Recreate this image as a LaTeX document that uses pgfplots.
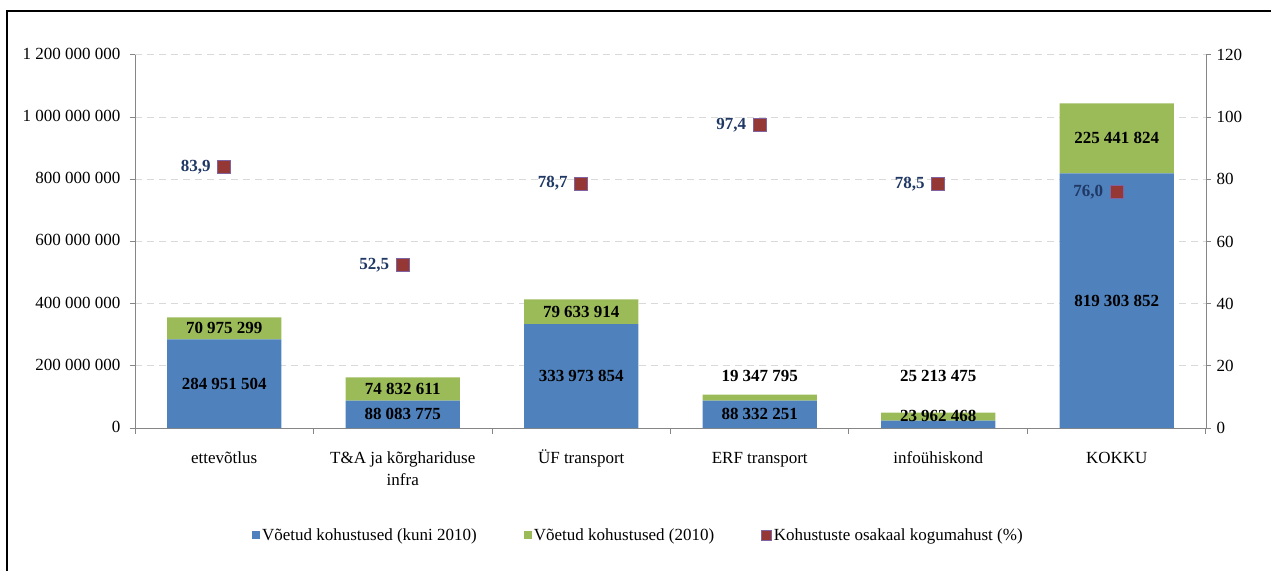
\documentclass[border=0pt]{standalone}
\usepackage{fontspec}
\setmainfont{Liberation Serif}
\usepackage{pgfplots}
\pgfplotsset{compat=1.18}

\definecolor{barblue}{HTML}{4F81BD}
\definecolor{bargreen}{HTML}{9BBB59}
\definecolor{mred}{HTML}{953735}
\definecolor{medge}{HTML}{8064A2}
\definecolor{pctnavy}{HTML}{1F3864}
\definecolor{axgray}{HTML}{868686}
\definecolor{gridgray}{HTML}{D9D9D9}

\newcommand\f{\fontsize{17}{22}\selectfont}

\pgfplotsset{
  frame/.style={
    at={(135pt,143pt)}, anchor=south west, scale only axis,
    width=1071pt, height=373pt,
    xmin=-0.5, xmax=5.5,
    axis line style={axgray, line width=1pt},
    tick style={axgray, line width=1pt},
    tick align=outside, major tick length=5pt,
    ticklabel style={font=\f, text=black},
    /pgf/number format/assume math mode=true,
  },
}

\begin{document}
\begin{tikzpicture}
\path[use as bounding box] (0pt,0pt) rectangle (1271pt,571pt);
\draw[line width=2.5pt] (7pt,0pt) -- (7pt,560pt) -- (1271pt,560pt);

% bars
\begin{axis}[frame,
    ybar stacked, bar width=114pt,
    ymin=0, ymax=1200000000,
    scaled y ticks=false,
    axis x line*=bottom, axis y line*=left,
    ytick={0,200000000,400000000,600000000,800000000,1000000000,1200000000},
    yticklabels={0,200 000 000,400 000 000,600 000 000,800 000 000,1 000 000 000,1 200 000 000},
    yticklabel style={xshift=-6pt},
    ymajorgrids,
    major grid style={gridgray, line width=1pt, dash pattern=on 7pt off 5pt},
    xtick={0,...,5},
    xticklabels={ettevõtlus, T\&A ja kõrghariduse\\infra, ÜF transport, ERF transport, infoühiskond, KOKKU},
    typeset ticklabels with strut,
    xticklabel style={align=center, yshift=-12pt},
    major x tick style={draw=none},
    minor xtick={-0.5,0.5,1.5,2.5,3.5,4.5,5.5},
    minor tick length=6pt,
    legend style={at={(0.47,-0.287)}, anchor=center, draw=none, fill=none,
      font=\f, legend columns=3,
      /tikz/every even column/.append style={column sep=45pt}},
    legend image code/.code={\fill[#1] (0pt,-4pt) rectangle (8pt,4pt);},
]
\addplot[fill=barblue, draw=none] coordinates {
  (0,284951504) (1,88083775) (2,333973854) (3,88332251) (4,23962468) (5,819303852)};
\addplot[fill=bargreen, draw=none] coordinates {
  (0,70975299) (1,74832611) (2,79633914) (3,19347795) (4,25213475) (5,225441824)};
\addlegendimage{legend image code/.code={\draw[fill=mred, draw=medge, line width=0.6pt] (0pt,-5pt) rectangle (10pt,5pt);}}
\legend{Võetud kohustused (kuni 2010), Võetud kohustused (2010), Kohustuste osakaal kogumahust (\%)}
\end{axis}

% bar value labels
\begin{axis}[frame, hide axis, ymin=0, ymax=1200000000]
\addplot[draw=none, mark=none, nodes near coords, point meta=explicit symbolic,
  every node near coord/.append style={anchor=center, font=\f\bfseries, text=black}]
  coordinates {
  (0,142500000) [284 951 504] (0,320400000) [70 975 299]
  (1,44000000) [88 083 775] (1,125500000) [74 832 611]
  (2,167000000) [333 973 854] (2,373800000) [79 633 914]
  (3,44200000) [88 332 251] (3,167300000) [19 347 795]
  (4,38600000) [23 962 468] (4,167300000) [25 213 475]
  (5,409700000) [819 303 852] (5,932000000) [225 441 824]
  };
\end{axis}

% percentage axis
\begin{axis}[frame,
    ymin=0, ymax=120,
    axis y line*=right, axis x line=none,
    ytick={0,20,40,60,80,100,120},
    yticklabels={0,20,40,60,80,100,120},
    yticklabel style={xshift=2pt},
]
\addplot[only marks, mark=square*, mark size=6.5pt,
  mark options={fill=mred, draw=medge, line width=0.6pt},
  nodes near coords, point meta=explicit symbolic,
  every node near coord/.append style={anchor=east, xshift=-10pt, font=\f\bfseries, text=pctnavy}]
  coordinates {(0,83.9) [83,9] (1,52.5) [52,5] (2,78.7) [78,7] (3,97.4) [97,4] (4,78.5) [78,5] (5,76.0) [76,0]};
\end{axis}
\end{tikzpicture}
\end{document}
